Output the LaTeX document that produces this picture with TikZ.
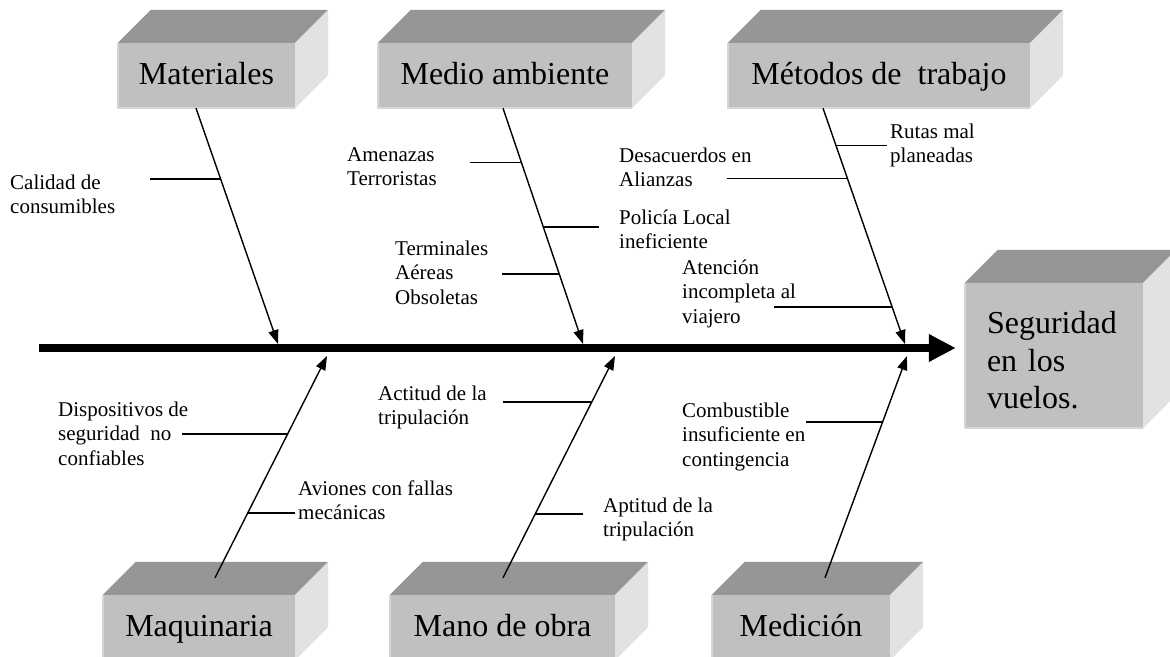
\documentclass[tikz,border=0pt]{standalone}
\usepackage{fontspec}
\setmainfont{Liberation Serif}
\usetikzlibrary{arrows.meta}
\definecolor{cfrente}{RGB}{192,192,192}
\definecolor{ctecho}{RGB}{150,150,150}
\definecolor{clado}{RGB}{226,226,226}
\definecolor{cbisel}{RGB}{214,214,214}

\begin{document}
\begin{tikzpicture}[x=1pt,y=-1pt,
	caja/.style={fill=cfrente, inner sep=0pt, minimum height=65pt, text height=22pt, text depth=5pt, font=\fontsize{32}{37.5}\selectfont},
	causa/.style={inner sep=0pt, anchor=base west, align=left, font=\fontsize{21}{24.5}\selectfont},
	hueso/.style={line width=1.4pt, -{Triangle[length=14pt,width=10pt]}},
	raya/.style={line width=1.4pt}]
	\useasboundingbox (0,0) rectangle (1170,656);
	% cajas de las categorias
	\node[caja, minimum width=177pt] (materiales) at (206.5,75.5) {Materiales};
	\node[caja, minimum width=254pt] (medio) at (505,75.5) {Medio ambiente};
	\node[caja, minimum width=302pt] (metodos) at (879,75.5) {Métodos de~ trabajo};
	\node[caja, minimum width=192pt] (maquinaria) at (199,627.5) {Maquinaria};
	\node[caja, minimum width=225pt] (mano) at (502.5,627.5) {Mano de obra};
	\node[caja, minimum width=178pt] (medicion) at (801,627.5) {Medición};
	\node[caja, text height=, text depth=, minimum width=178pt, minimum height=145pt, text width=134pt, inner xsep=22pt, align=left] (efecto) at (1054,355.5) {\rule{0pt}{32pt}Seguridad\\en los\\vuelos.};
	\foreach \c in {materiales,medio,metodos,maquinaria,mano,medicion,efecto} {
		\fill[ctecho] (\c.north west) -- ++(33,-33) -- ([shift={(33,-33)}]\c.north east) -- (\c.north east) -- cycle;
		\fill[clado] (\c.north east) -- ([shift={(33,-33)}]\c.north east) -- ([shift={(33,-33)}]\c.south east) -- (\c.south east) -- cycle;
		\draw[cbisel, line width=1.5pt] (\c.north west) -- (\c.south west) -- (\c.south east);
	}
	% espina central
	\coordinate (inicio) at (39,348);
	\draw[line width=8pt, -{Triangle[length=27pt,width=26pt]}, shorten >=9pt] (inicio) -- (inicio -| efecto.west);
	% espinas
	\coordinate (s1) at (278,344);
	\coordinate (s2) at (583,344);
	\coordinate (s3) at (905,344);
	\coordinate (i1) at (327,356);
	\coordinate (i2) at (615,356);
	\coordinate (i3) at (907,356);
	\draw[hueso] ([xshift=-10.5pt]materiales.south) -- coordinate[pos=0.301] (c1) (s1);
	\draw[hueso] ([xshift=-2pt]medio.south) -- coordinate[pos=0.229] (c2) coordinate[pos=0.504] (c3) coordinate[pos=0.703] (c4) (s2);
	\draw[hueso] ([xshift=-56pt]metodos.south) -- coordinate[pos=0.157] (c5) coordinate[pos=0.297] (c6) coordinate[pos=0.843] (c7) (s3);
	\draw[hueso] ([shift={(16,-17)}]maquinaria.north) -- coordinate[pos=0.293] (c8) coordinate[pos=0.649] (c9) (i1);
	\draw[hueso] ([shift={(0.5,-17)}]mano.north) -- coordinate[pos=0.288] (c10) coordinate[pos=0.793] (c11) (i2);
	\draw[hueso] ([shift={(24,-17)}]medicion.north) -- coordinate[pos=0.703] (c12) (i3);
	% causas (ubicadas por la ultima linea)
	\node[causa] (calidad) at (10,213.5) {Calidad de\\consumibles};
	\node[causa] (amenazas) at (347,185.5) {Amenazas\\Terroristas};
	\node[causa] (policia) at (619,248.5) {Policía Local\\ineficiente};
	\node[causa] (terminales) at (395,304) {Terminales\\Aéreas\\Obsoletas};
	\node[causa] (rutas) at (890,162.5) {Rutas mal\\planeadas};
	\node[causa] (desacuerdos) at (619,186.5) {Desacuerdos en\\Alianzas};
	\node[causa] (atencion) at (682,323) {Atención\\incompleta al\\viajero};
	\node[causa] (aviones) at (298,519.5) {Aviones con fallas\\mecánicas};
	\node[causa] (dispositivos) at (58,465) {Dispositivos de\\seguridad~ no\\confiables};
	\node[causa] (aptitud) at (603,536.5) {Aptitud de la\\tripulación};
	\node[causa] (actitud) at (378,424.5) {Actitud de la\\tripulación};
	\node[causa] (combustible) at (682,466) {Combustible\\insuficiente en\\contingencia};
	\draw[raya] (c1) -- ++(-71,0);
	\draw[raya] (c2) -- ++(-51,0);
	\draw[raya] (c3) -- ++(56,0);
	\draw[raya] (c4) -- ++(-57,0);
	\draw[raya] (c5) -- ++(51,0);
	\draw[raya] (c6) -- ++(-120,0);
	\draw[raya] (c7) -- ++(-118,0);
	\draw[raya] (c8) -- ++(47,0);
	\draw[raya] (c9) -- ++(-106,0);
	\draw[raya] (c10) -- ++(48,0);
	\draw[raya] (c11) -- ++(-89,0);
	\draw[raya] (c12) -- ++(-77,0);
\end{tikzpicture}
\end{document}
